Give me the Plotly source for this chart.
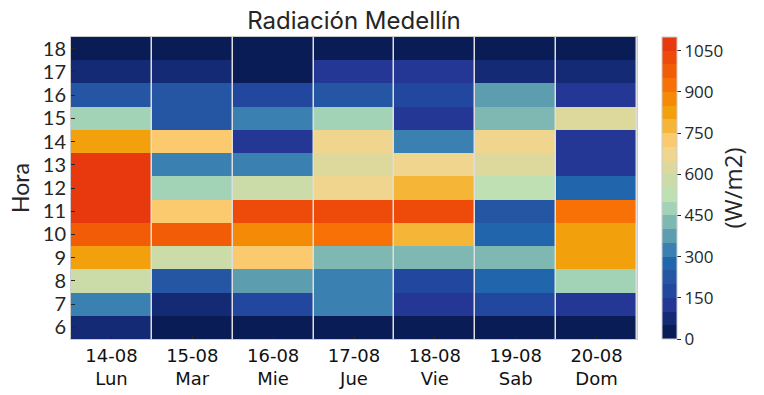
import plotly.graph_objects as go

days = ["14-08<br>Lun", "15-08<br>Mar", "16-08<br>Mie", "17-08<br>Jue",
        "18-08<br>Vie", "19-08<br>Sab", "20-08<br>Dom"]
hours = [6, 7, 8, 9, 10, 11, 12, 13, 14, 15, 16, 17, 18]

# radiation (W/m2) per hour (rows 6..18) for each day
lun = [75, 330, 570, 820, 970, 1075, 1080, 1070, 830, 480, 230, 80, 20]
mar = [20, 70, 220, 580, 975, 720, 470, 320, 725, 220, 225, 70, 15]
mie = [20, 170, 370, 720, 870, 1030, 575, 330, 125, 320, 180, 20, 10]
jue = [20, 320, 330, 420, 930, 1025, 680, 620, 670, 470, 220, 120, 20]
vie = [20, 130, 180, 430, 780, 1030, 770, 675, 330, 130, 170, 125, 20]
sab = [20, 175, 270, 420, 280, 225, 530, 620, 680, 420, 370, 75, 20]
dom = [20, 125, 470, 820, 830, 925, 280, 130, 125, 625, 130, 75, 20]

cb_ticks = [0, 150, 300, 450, 600, 750, 900, 1050]

band_colors = [
    "#0a1c55", "#142a74", "#253795", "#22479e", "#2456a3", "#2166ac",
    "#3a80b0", "#5c9db0", "#7fb7b2", "#a2d3b7", "#bfe0b3", "#ccdca8",
    "#ddd89b", "#efd58e", "#fcca6e", "#f5b536", "#f2a10c", "#f48a06",
    "#f77107", "#f35c07", "#ee4a0a", "#e8380e",
]
n = len(band_colors)
colorscale = []
for i, c in enumerate(band_colors):
    colorscale.append([i / n, c])
    colorscale.append([(i + 1) / n, c])

cols = [lun, mar, mie, jue, vie, sab, dom]
z = [[cols[d][h] for d in range(len(days))] for h in range(len(hours))]

fig = go.Figure(go.Heatmap(
    z=z, x=days, y=hours,
    zmin=0, zmax=1100,
    colorscale=colorscale,
    xgap=1.5,
    colorbar=dict(
        x=(662 - 71) / 566, xanchor="left", xpad=0,
        y=0.5, yanchor="middle", ypad=0,
        len=1, lenmode="fraction", thickness=15,
        outlinewidth=1, outlinecolor="#cccccc",
        tickvals=cb_ticks, ticks="outside", ticklen=4, tickcolor="#262626",
        tickfont=dict(family="Open Sans", size=17, color="#262626"),
        title=dict(text="(W/m2)", side="right",
                   font=dict(family="Open Sans", size=24, color="#262626")),
    ),
))

fig.update_layout(
    width=764, height=395,
    margin=dict(l=71, r=127, t=37, b=56, autoexpand=False),
    paper_bgcolor="white",
    plot_bgcolor="#dedede",
    title=dict(text="Radiación Medellín", x=0.5, xref="paper",
               y=(395 - 21) / 395, yanchor="middle",
               font=dict(family="Inter", size=24, color="#262626")),
    xaxis=dict(
        showgrid=False, zeroline=False,
        ticks="inside", ticklen=4, tickcolor="#262626",
        tickfont=dict(family="DejaVu Sans", size=18, color="#111111"),
        showline=True, mirror=True, linecolor="#cccccc", linewidth=1,
    ),
    yaxis=dict(
        showgrid=False, zeroline=False,
        tickvals=hours, ticks="inside", ticklen=4, tickcolor="#262626",
        tickfont=dict(family="Lato", size=20, color="#262626"),
        title=dict(text="Hora", font=dict(family="Lato", size=23, color="#262626"), standoff=6),
        showline=True, mirror=True, linecolor="#cccccc", linewidth=1,
    ),
)

fig.write_html("out.html", config={"displayModeBar": False},
               post_script="document.body.style.margin='0';")
